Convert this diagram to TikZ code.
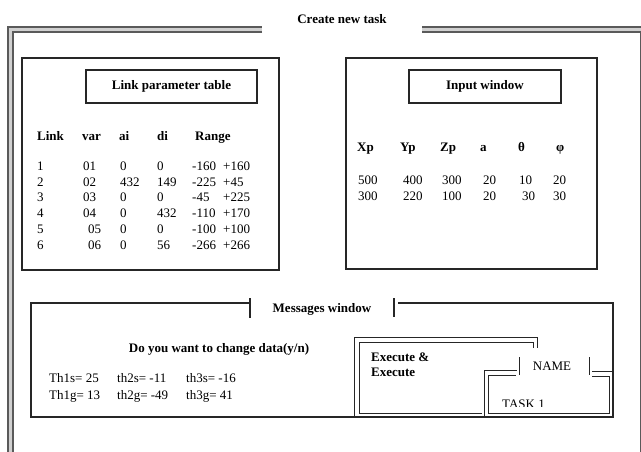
\documentclass[tikz,border=0pt]{standalone}
\usepackage{fontspec}
\setmainfont{Liberation Serif}
\definecolor{lnc}{HTML}{262626}
\definecolor{frc}{HTML}{5A5A5A}
\definecolor{frf}{HTML}{D0D0D0}
\begin{document}
\begin{tikzpicture}[x=1pt,y=-1pt,
  ln/.style={draw=lnc, line width=1.1pt},
  thinln/.style={draw=lnc, line width=0.9pt},
  frm/.style={draw=frc, line width=1.6pt, double=frf, double distance=3.2pt},
  txt/.style={inner sep=0pt, text height=9pt, text depth=2.5pt, font=\fontsize{13}{15}\selectfont},
  hd/.style={txt, font=\fontsize{13}{15}\selectfont\bfseries},
  tbox/.style={hd, draw=lnc, line width=1.1pt, minimum height=33pt}
]
\useasboundingbox (0,0) rectangle (641,452);
\clip (0,0) rectangle (641,452);

% outer window frame
\draw[frm] (262,29.5) -- (10.5,29.5) -- (10.5,470);
\draw[frm] (422,29.5) -- (660,29.5);
\draw[draw=frc, line width=0.8pt] (640,31) -- (640,452);
\node[hd] (title) at (342,20) {Create new task};

% left panel
\draw[ln] (22,58) rectangle (279,270);
\node[tbox, minimum width=171pt] (lpt) at (171.5,86.5) {Link parameter table};
\node[hd, anchor=west] (hLink) at (37,137) {Link};
\node[hd, anchor=west] (hvar) at (82,137) {var};
\node[hd, anchor=west] (hai) at (119,137) {ai};
\node[hd, anchor=west] (hdi) at (157,137) {di};
\node[hd, anchor=west] (hRange) at (195,137) {Range};
\foreach \r/\a/\b/\c/\d/\e/\f/\bx in {1/1/01/0/0/-160/+160/83, 2/2/02/432/149/-225/+45/83, 3/3/03/0/0/-45/+225/83, 4/4/04/0/432/-110/+170/83, 5/5/05/0/0/-100/+100/88, 6/6/06/0/56/-266/+266/88}{
  \pgfmathsetmacro{\yy}{167+15.8*(\r-1)}
  \node[txt, anchor=west] (ln\r) at (37,\yy) {\a};
  \node[txt, anchor=west] (lv\r) at (\bx,\yy) {\b};
  \node[txt, anchor=west] (la\r) at (120,\yy) {\c};
  \node[txt, anchor=west] (ld\r) at (157,\yy) {\d};
  \node[txt, anchor=west] (lr\r) at (192,\yy) {\e};
  \node[txt, anchor=west] (ls\r) at (223,\yy) {\f};
}

% right panel
\draw[ln] (346,58) rectangle (597,269);
\node[tbox, minimum width=152pt] (ipt) at (485,86.5) {Input window};
\node[hd, anchor=west] (hXp) at (357,148) {Xp};
\node[hd, anchor=west] (hYp) at (400,148) {Yp};
\node[hd, anchor=west] (hZp) at (440,148) {Zp};
\node[hd, anchor=west] (ha) at (480,148) {a};
\node[hd, anchor=west] (hth) at (518,148) {θ};
\node[hd, anchor=west] (hph) at (556,148) {φ};
\foreach \r/\a/\b/\c/\d/\e/\f/\ex in {1/500/400/300/20/10/20/519, 2/300/220/100/20/30/30/522}{
  \pgfmathsetmacro{\yy}{181+16*(\r-1)}
  \node[txt, anchor=west] (ix\r) at (358,\yy) {\a};
  \node[txt, anchor=west] (iy\r) at (403,\yy) {\b};
  \node[txt, anchor=west] (iz\r) at (442,\yy) {\c};
  \node[txt, anchor=west] (ia\r) at (483,\yy) {\d};
  \node[txt, anchor=west] (it\r) at (\ex,\yy) {\e};
  \node[txt, anchor=west] (ip\r) at (553,\yy) {\f};
}

% messages window
\draw[ln] (250,303) -- (31,303) -- (31,417) -- (613,417) -- (613,303) -- (398,303);
\draw[ln] (250,298) -- (250,318);
\draw[ln] (394,298) -- (394,317);
\node[hd] (msg) at (322,309) {Messages window};
\node[hd] (ask) at (219,349) {Do you want to change data(y/n)};
\node[txt, anchor=west] (t1s) at (49,379) {Th1s= 25};
\node[txt, anchor=west] (t2s) at (117,379) {th2s= -11};
\node[txt, anchor=west] (t3s) at (186,379) {th3s= -16};
\node[txt, anchor=west] (t1g) at (49,396) {Th1g= 13};
\node[txt, anchor=west] (t2g) at (117,396) {th2g= -49};
\node[txt, anchor=west] (t3g) at (186,396) {th3g= 41};

% execute box
\draw[thinln] (354,417) -- (354,337) -- (537,337) -- (537,348);
\draw[thinln] (359,413) -- (359,342) -- (533,342) -- (533,348);
\draw[thinln] (359,413) -- (482,413);
\node[hd, anchor=west] (ex1) at (371,358) {Execute \&};
\node[hd, anchor=west] (ex2) at (371,373) {Execute};

% name box
\draw[thinln] (484,417) -- (484,370) -- (517,370);
\draw[thinln] (488,413) -- (488,375) -- (516,375);
\draw[thinln] (519,357) -- (519,375);
\draw[thinln] (589,357) -- (589,375);
\draw[thinln] (592,371) -- (613,371);
\draw[thinln] (592,376) -- (609,376) -- (609,413) -- (488,413);
\node[txt] (name) at (552,367) {NAME};
\begin{scope}
  \clip (490,395) rectangle (607,406);
  \node[txt, anchor=base west] (task) at (502,408.5) {TASK 1};
\end{scope}
\end{tikzpicture}
\end{document}
